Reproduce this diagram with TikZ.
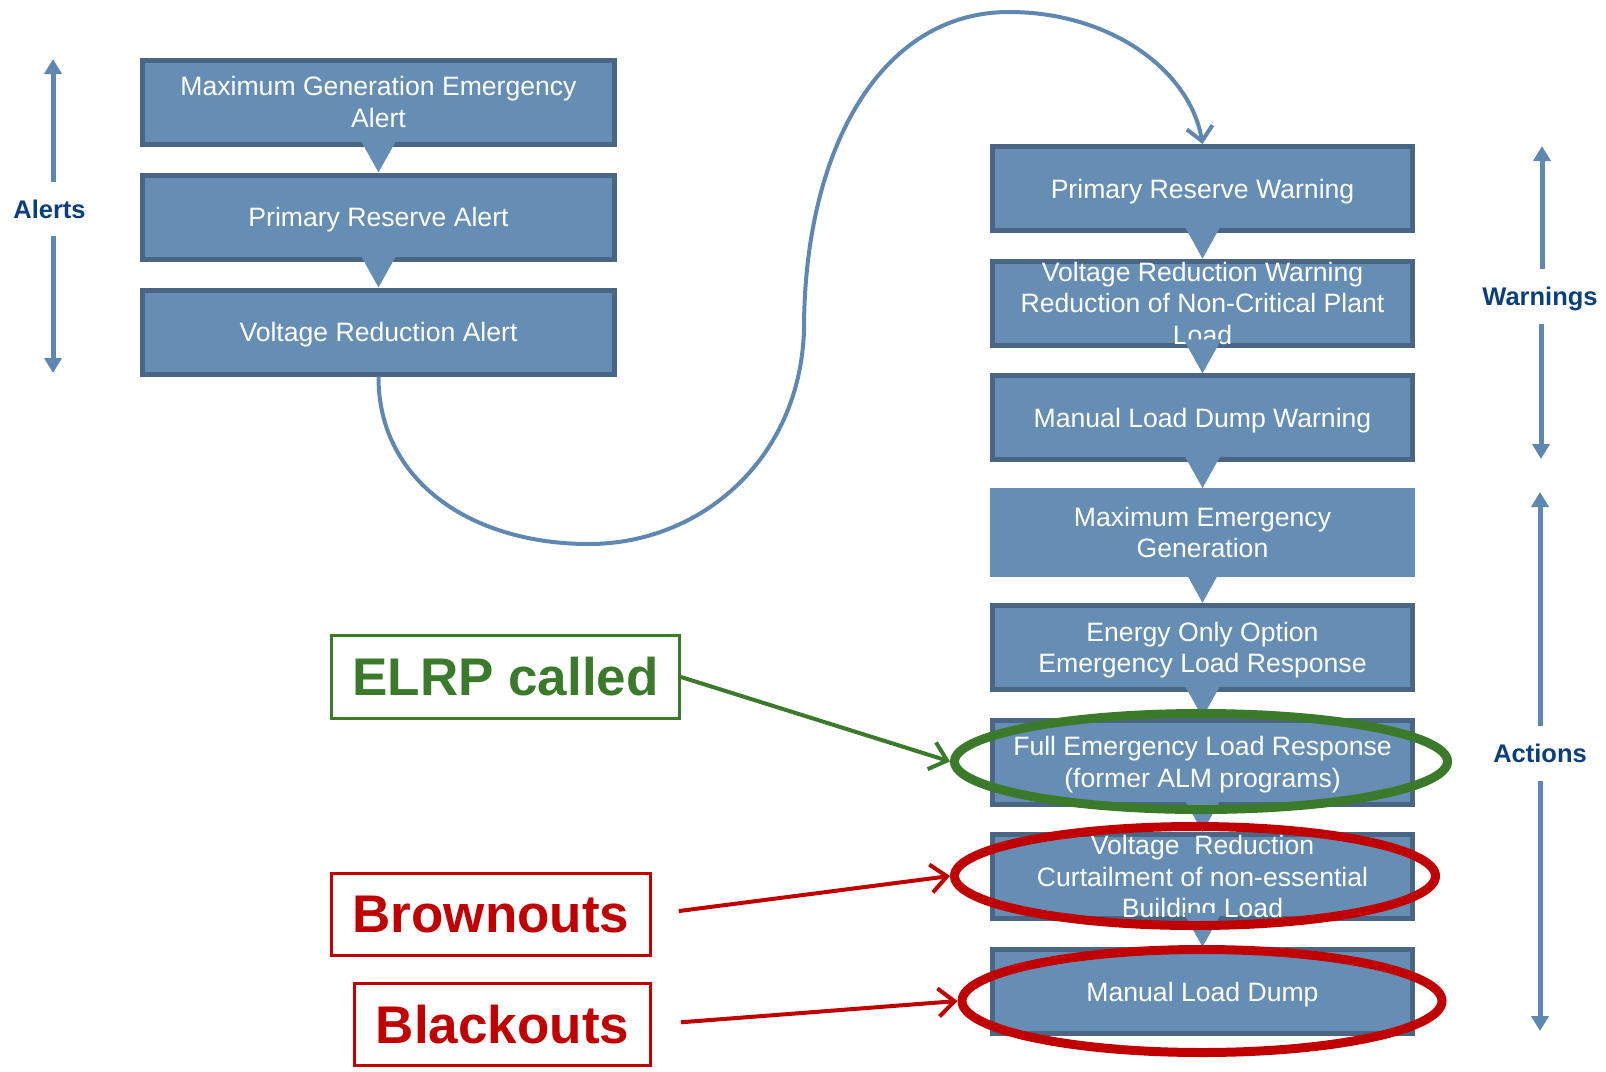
\documentclass[tikz,border=0pt]{standalone}
\usepackage{fontspec}
\setmainfont{Liberation Sans}
\usetikzlibrary{math,arrows.meta,shapes.geometric}
\definecolor{stagefill}{HTML}{668EB5}
\definecolor{stageline}{HTML}{4A6684}
\definecolor{flowblue}{HTML}{5E88B2}
\definecolor{phaseblue}{HTML}{0B3F7C}
\definecolor{elrpgreen}{HTML}{3B7A2B}
\definecolor{outagered}{HTML}{C00000}
\tikzset{
  stage/.style = {fill=stagefill, draw=stageline, line width=2.5pt,
    minimum width=#1, minimum height=42pt, inner sep=0pt, align=center,
    text depth=0pt, text=white, font=\fontsize{13.3}{15.75}\selectfont},
  stage/.default = 210pt,
  nextstage/.style = {draw=stagefill, line width=1.5pt,
    -{Triangle[width=18.5pt,length=17pt]}},
  phase/.style = {text=phaseblue, font=\fontsize{12.75}{15}\selectfont\bfseries,
    inner xsep=0pt, inner ysep=8.8pt, text height=9.3pt, text depth=0pt},
  phasearrow/.style = {draw=flowblue, line width=2.5pt,
    -{Triangle[width=8.5pt,length=7.5pt]}},
  callout/.style = {draw=#1, text=#1, line width=1.5pt, inner sep=0pt,
    font=\fontsize{26.5}{30}\selectfont\bfseries},
  ring/.style = {ellipse, draw=#1, line width=4.5pt, inner sep=0pt},
  pointer/.style = {draw=#1, line width=2pt,
    -{Straight Barb[length=8pt,width=14pt]}},
  flowcurve/.style = {draw=flowblue, line width=2pt,
    -{Straight Barb[length=7pt,width=13pt]}}
}

\begin{document}
\begin{tikzpicture}[x=0.5pt, y=-0.5pt]
    \tikzmath{
      \leftX = 378.5;
      \rightX = 1202.5;
      \leftTop = 102;
      \rightTop = 188.5;
      \pitchL = 115;
      \pitchR = 114.7;
    }
    \useasboundingbox (0,0) rectangle (1606,1071);
    \node[stage=236pt] (mgea) at (\leftX, \leftTop)
      {Maximum Generation Emergency\\Alert};
    \node[stage=236pt] (pra) at (\leftX, \leftTop + \pitchL)
      {Primary Reserve Alert};
    \node[stage=236pt] (vra) at (\leftX, \leftTop + 2*\pitchL)
      {Voltage Reduction Alert};
    \node[stage] (prw) at (\rightX, \rightTop) {Primary Reserve Warning};
    \node[stage] (vrw) at (\rightX, \rightTop + \pitchR)
      {Voltage Reduction Warning\\Reduction of Non-Critical Plant\\Load};
    \node[stage] (mldw) at (\rightX, \rightTop + 2*\pitchR)
      {Manual Load Dump Warning};
    \node[stage, draw=stagefill] (meg) at (\rightX, \rightTop + 3*\pitchR)
      {Maximum Emergency\\Generation};
    \node[stage] (eoo) at (\rightX, \rightTop + 4*\pitchR)
      {Energy Only Option\\Emergency Load Response};
    \node[stage] (felr) at (\rightX, \rightTop + 5*\pitchR)
      {Full Emergency Load Response\\(former ALM programs)};
    \node[stage] (vrc) at (\rightX, \rightTop + 6*\pitchR)
      {Voltage~ Reduction\\Curtailment of non-essential\\Building Load};
    \node[stage] (mld) at (\rightX, \rightTop + 7*\pitchR)
      {Manual Load Dump};
    \foreach \a/\b in {mgea/pra, pra/vra, prw/vrw, vrw/mldw, mldw/meg,
      meg/eoo, eoo/felr, felr/vrc, vrc/mld}
      \draw[nextstage] (\a) -- (\b);
    \draw[flowcurve] (vra.south)
      .. controls (378,480) and (470,544) .. (589,544)
      .. controls (700,544) and (800,460) .. (804,330)
      .. controls (804,150) and (880,12) .. (1009,12)
      .. controls (1110,12) and (1190,70) .. (prw.north);
    \node[phase] (alerts) at (49.5, 209) {Alerts};
    \coordinate (alertsTop) at (53, 59);
    \coordinate (alertsBot) at (53, 373);
    \draw[phasearrow] (alerts.north -| alertsTop) -- (alertsTop);
    \draw[phasearrow] (alerts.south -| alertsBot) -- (alertsBot);
    \node[phase] (warnings) at (1540, 296.5) {Warnings};
    \coordinate (warningsTop) at (1542, 146);
    \coordinate (warningsBot) at (1541, 459);
    \draw[phasearrow] (warnings.north -| warningsTop) -- (warningsTop);
    \draw[phasearrow] (warnings.south -| warningsBot) -- (warningsBot);
    \node[phase] (actions) at (1540, 753.5) {Actions};
    \coordinate (actionsTop) at (1540, 492);
    \coordinate (actionsBot) at (1540, 1031);
    \draw[phasearrow] (actions.north -| actionsTop) -- (actionsTop);
    \draw[phasearrow] (actions.south -| actionsBot) -- (actionsBot);
    \node[callout=elrpgreen, minimum width=174pt, minimum height=41.5pt]
      (elrp) at (505.5, 677) {ELRP called};
    \node[callout=outagered, minimum width=159.5pt, minimum height=41pt]
      (brown) at (491, 914.5) {Brownouts};
    \node[callout=outagered, minimum width=148pt, minimum height=41pt]
      (black) at (502.5, 1024.5) {Blackouts};
    \node[ring=elrpgreen, minimum width=246.5pt, minimum height=48pt]
      (elrpRing) at (1201, 761.5) {};
    \node[ring=outagered, minimum width=240.5pt, minimum height=49.5pt]
      (brownRing) at (1195, 876) {};
    \node[ring=outagered, minimum width=240pt, minimum height=51.5pt]
      (blackRing) at (1202, 1001) {};
    \draw[pointer=elrpgreen] (elrp.east) -- (elrpRing.west);
    \draw[pointer=outagered, shorten <=13.5pt] (brown.east) -- (brownRing.west);
    \draw[pointer=outagered, shorten <=14.5pt] (black.east) -- (blackRing.west);
  \end{tikzpicture}
\end{document}
